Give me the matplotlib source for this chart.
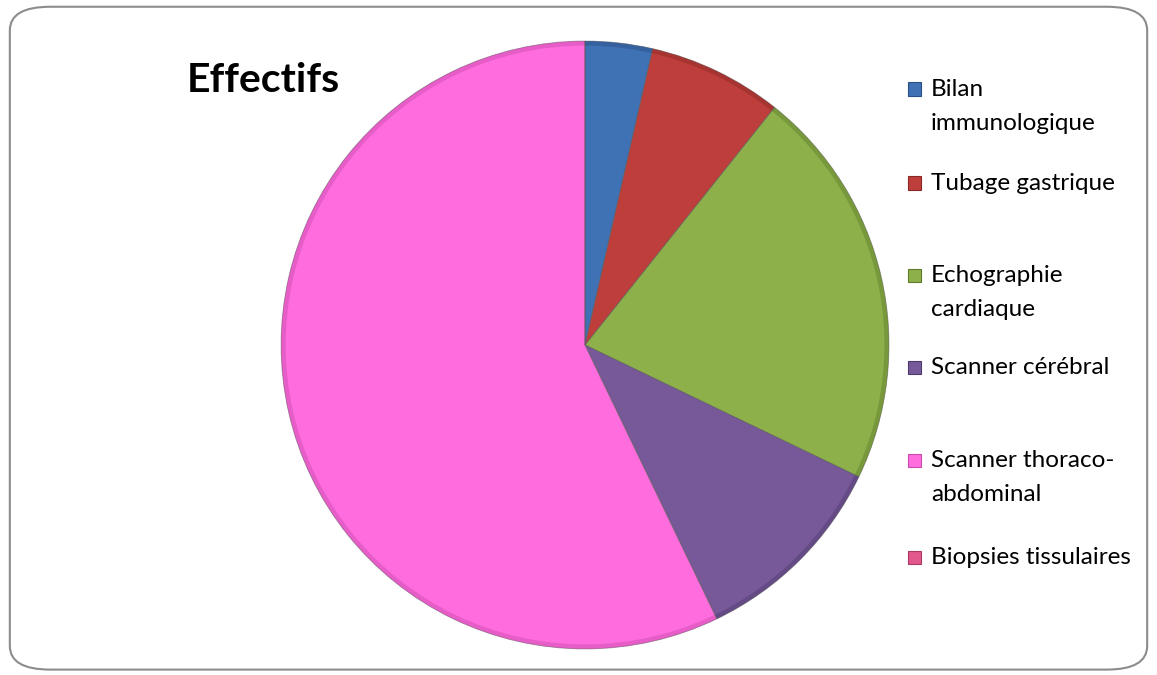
import matplotlib.pyplot as plt
from matplotlib.patches import FancyBboxPatch, Rectangle

# données
examens = ['Bilan\nimmunologique', 'Tubage gastrique', 'Echographie\ncardiaque',
           'Scanner cérébral', 'Scanner thoraco-\nabdominal', 'Biopsies tissulaires']
effectifs = [1, 2, 6, 3, 16, 0]
couleurs = ['#3F71B5', '#BE3E3B', '#8DB04A', '#77599A', '#FF6CDE', '#E2588C']
bords = ['#2A4F85', '#8A2826', '#5F7C2C', '#4E3A6C', '#C94BAE', '#A83A64']

plt.rcParams['font.family'] = ['Lato', 'DejaVu Sans']

fig = plt.figure(figsize=(11.57, 6.75), dpi=100)

# cadre arrondi
cadre = FancyBboxPatch((0.0085, 0.008), 0.983, 0.982,
                       boxstyle='round,pad=0,rounding_size=0.035',
                       transform=fig.transFigure, fill=False,
                       edgecolor='#8C8C8C', linewidth=1.5)
fig.patches.append(cadre)

ax = fig.add_axes([0.2403, 0.0341, 0.5307, 0.9096])
wedges, _ = ax.pie(effectifs, colors=couleurs, startangle=90, counterclock=False,
                   radius=1, wedgeprops=dict(edgecolor='none'))
# effet de relief : anneau extérieur plus sombre
ax.pie(effectifs, colors=bords, startangle=90, counterclock=False, radius=1,
       wedgeprops=dict(width=0.015, edgecolor='none', alpha=0.45))
ax.pie(effectifs, colors=['none'] * 6, startangle=90, counterclock=False, radius=1,
       wedgeprops=dict(edgecolor='#555555', linewidth=0.6, alpha=0.5))
ax.set_xlim(-1.01, 1.01)
ax.set_ylim(-1.01, 1.01)
ax.set_aspect('equal')
ax.axis('off')

fig.text(187 / 1157, 1 - 80 / 675, 'Effectifs', fontsize=29.5, fontweight='bold',
         ha='left', va='center')

# légende
y_legende = [89, 183, 275, 367, 460, 557]
for nom, c, b, y in zip(examens, couleurs, bords, y_legende):
    fig.patches.append(Rectangle((908 / 1157, 1 - (y + 6.5) / 675), 13 / 1157, 13 / 675,
                                 transform=fig.transFigure, facecolor=c,
                                 edgecolor=b, linewidth=0.8))
    fig.text(931 / 1157, 1 - (y - 10) / 675, nom, fontsize=17.5, ha='left', va='top',
             linespacing=1.75)

fig.savefig('out.png', dpi=100)
